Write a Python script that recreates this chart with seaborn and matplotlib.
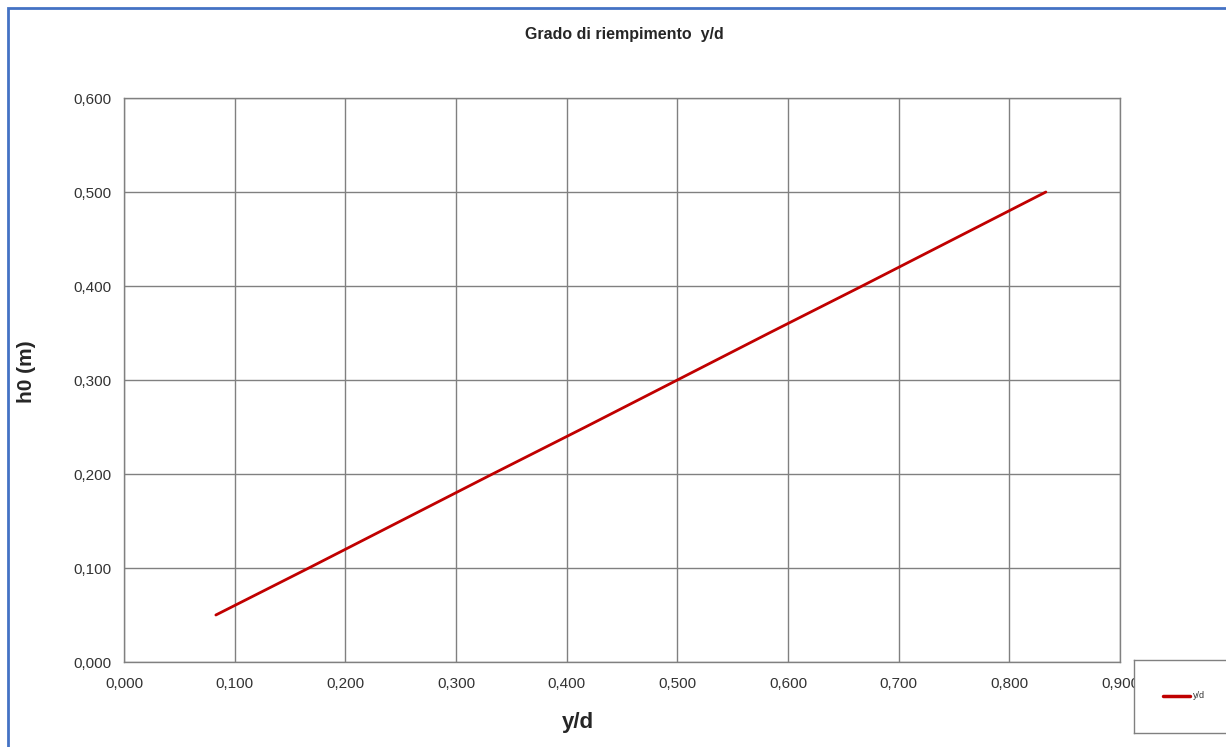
import numpy as np
import pandas as pd
import matplotlib
matplotlib.use('Agg')
import matplotlib.pyplot as plt
import seaborn as sns
from matplotlib.patches import Rectangle
from matplotlib.ticker import FuncFormatter, MultipleLocator

# Dati
y_d = [0.083, 0.167, 0.250, 0.333, 0.417, 0.500, 0.583, 0.667, 0.750, 0.833]
h0 = [0.05, 0.10, 0.15, 0.20, 0.25, 0.30, 0.35, 0.40, 0.45, 0.50]
serie = 'y/d'

df = pd.DataFrame({'y/d': y_d, 'h0': h0, 'serie': serie})

sns.set_style('white')
plt.rcParams['font.family'] = ['Liberation Sans', 'DejaVu Sans']

fig = plt.figure(figsize=(12.26, 7.47), dpi=100)
ax = fig.add_axes([124 / 1226, 1 - 662 / 747, (1120 - 124) / 1226, (662 - 98) / 747])

sns.lineplot(data=df, x='y/d', y='h0', hue='serie', palette=['#c00000'],
             linewidth=2, ax=ax, legend=False)

ax.set_xlim(0, 0.9)
ax.set_ylim(0, 0.6)
ax.xaxis.set_major_locator(MultipleLocator(0.1))
ax.yaxis.set_major_locator(MultipleLocator(0.1))
virgola = FuncFormatter(lambda v, p: f'{v:.3f}'.replace('.', ','))
ax.xaxis.set_major_formatter(virgola)
ax.yaxis.set_major_formatter(virgola)
ax.grid(True, color='#808080', linewidth=1)
for s in ax.spines.values():
    s.set_color('#808080')
    s.set_linewidth(1)
ax.tick_params(axis='both', direction='out', length=5, width=1, color='#808080',
               labelsize=11, labelcolor='#333333', pad=4)
ax.tick_params(axis='x', pad=6)

ax.set_xlabel('y/d', fontsize=16, fontweight='bold')
ax.xaxis.set_label_coords((578 - 124) / (1120 - 124), -(712 - 662) / (662 - 98))
ax.set_ylabel('h0 (m)', fontsize=15, fontweight='bold')
ax.yaxis.set_label_coords(-(124 - 36) / (1120 - 124), (662 - 372) / (662 - 98))
fig.text(624 / 1226, 1 - 35 / 747, 'Grado di riempimento  y/d', ha='center', va='center',
         fontsize=11.5, fontweight='bold')

# legenda in basso a destra
leg_ax = fig.add_axes([1134 / 1226, 1 - 733 / 747, 120 / 1226, 73 / 747])
leg_ax.set_xticks([])
leg_ax.set_yticks([])
for s in leg_ax.spines.values():
    s.set_color('#808080')
    s.set_linewidth(1)
leg_ax.set_xlim(0, 120)
leg_ax.set_ylim(0, 73)
leg_ax.plot([29, 56], [37, 37], color='#c00000', linewidth=2.5)
leg_ax.text(59, 37, 'y/d', fontsize=6.5, va='center', ha='left', color='#333333')

# bordo blu del grafico
fig.patches.append(Rectangle((8 / 1226, -0.1), 1.2, 1 - 8 / 747 + 0.1,
                             transform=fig.transFigure, fill=False,
                             edgecolor='#4472c4', linewidth=2))

fig.savefig('out.png', dpi=100)
